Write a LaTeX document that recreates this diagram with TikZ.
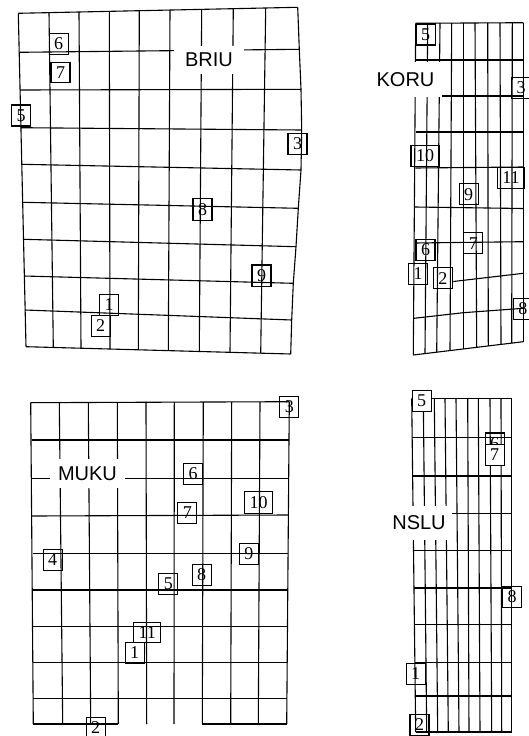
\documentclass[tikz,border=0pt]{standalone}
\usepackage{fontspec}
\setmainfont{Liberation Serif}
\newfontfamily\sitefont{Liberation Sans}
\tikzset{
  gridline/.style={line width=1.1pt},
  stn/.style={draw,line width=1.1pt,inner xsep=5pt,inner ysep=4.5pt,font=\fontsize{18}{18}\selectfont},
  site/.style={fill=white,inner sep=8pt,font=\sitefont\fontsize{20}{20}\selectfont}
}
\begin{document}
\begin{tikzpicture}[x=1pt,y=-1pt]
  \useasboundingbox (0,0) rectangle (528,736);
  \foreach \xt/\yt/\xb/\yb in {18.3/13.3/26/346.7, 49/12.6/53.3/347.5, 79/12/81/348.2, 109.3/11.3/110/349, 139.3/10.7/138.3/349.8, 170/10/168.3/350.6, 201.7/9.4/199.3/351.5, 233.3/8.7/230/352.3, 265.7/8/260.7/353.2}
    \draw[gridline] (\xt,\yt) -- (\xb,\yb);
  \draw[gridline] (297.7,7.3) -- (299.3,49.3) -- (301,89.3) -- (301.7,130) -- (301,170) -- (298.3,208.3) -- (296,246.7) -- (293.3,283.3) -- (291.7,320) -- (290.7,354);
  \foreach \xl/\yl/\xr/\yr in {18.3/13.3/297.7/7.3, 19.3/52.3/299.3/49.3, 20/90/301/89.3, 20.7/127.7/301.7/130, 21.7/164.3/301/170, 22.7/202.3/298.3/208.3, 23.3/239.3/296/246.7, 24/276/293.3/283.3, 25/310/291.7/320, 26/346.7/290.7/354}
    \draw[gridline] (\xl,\yl) -- (\xr,\yr);
  \node[site,inner xsep=11pt,inner ysep=7pt] (briu) at (209,59.7) {BRIU};
  \node[stn] (b6) at (58.7,44) {6}; \node[stn] (b7) at (60.5,72.5) {7}; \node[stn] (b5) at (21,115.5) {5}; \node[stn] (b3) at (297.5,144) {3};
  \node[stn] (b8) at (202.5,209.5) {8}; \node[stn] (b9) at (261.5,275.5) {9}; \node[stn] (b1) at (109,305) {1}; \node[stn] (b2) at (100.7,326) {2};

  \foreach \xt/\yt/\xb/\yb in {415.7/23.3/413.3/355, 427.7/23.3/425/353.6, 440/23.2/436.7/352.2, 451.7/23.1/450/350.6, 463.3/23/463.3/349, 475/23/476.7/347.3, 487.7/22.9/488.3/345.9, 500/22.8/501/344.4, 512.3/22.7/511.7/343.1, 523.3/22.7/523.3/341.7}
    \draw[gridline] (\xt,\yt) -- (\xb,\yb);
  \foreach \xl/\yl/\xr/\yr in {415.7/23.3/523.3/22.7, 415.7/60/523.3/60, 441.7/96/523.3/96, 415.5/132/523.3/132, 415.3/168/523.3/167, 415/207/523.3/208.5, 414.8/243/523.3/241.7, 453.3/281.5/523.3/273.3, 413.3/355/523.3/341.7}
    \draw[gridline] (\xl,\yl) -- (\xr,\yr);
  \draw[gridline] (414,318.3) -- (463.3,312.7) -- (523.3,308.3);
  \node[site,inner xsep=6.5pt,inner ysep=10pt] (koru) at (405.5,79.5) {KORU};
  \node[stn] (k5) at (425.7,34.5) {5}; \node[stn] (k3) at (521.2,88) {3}; \node[stn] (k10) at (425,156) {10}; \node[stn] (k11) at (511,178) {11};
  \node[stn] (k9) at (468.7,194.3) {9}; \node[stn] (k7) at (473.3,243.3) {7}; \node[stn] (k6) at (425.5,250) {6}; \node[stn] (k1) at (418,274) {1};
  \node[stn] (k2) at (442.8,278.3) {2}; \node[stn] (k8) at (522.8,309) {8};

  \foreach \xt/\yt/\xb/\yb in {30.7/402.7/33.3/724, 59.3/402.6/62.7/724, 88.3/402.5/90.7/724, 117.3/402.4/118.3/724, 146/402.3/146.7/724, 174.3/402.2/174/724, 203.3/402.1/202.3/724, 231.7/402/230.7/724, 260/401.8/258.3/724, 289.3/401.7/286.7/724}
    \draw[gridline] (\xt,\yt) -- (\xb,\yb);
  \foreach \xl/\yl/\xr/\yr in {30.7/402.7/289.3/401.7, 31.5/440/289/440, 32/478.3/288.5/478.3, 32.2/516/288/515, 32.5/553.3/287.8/553.3, 32.7/590/287.5/590, 33/626.7/287.3/626.7, 33/662.7/287/662.7, 33.2/698.3/286.8/698.3, 33.3/724/118.3/724, 202.3/724/286.7/724}
    \draw[gridline] (\xl,\yl) -- (\xr,\yr);
  \node[site,inner xsep=8.5pt] (muku) at (87.5,473.5) {MUKU};
  \node[stn] (m3) at (289.3,407) {3}; \node[stn] (m6) at (193,474) {6}; \node[stn] (m10) at (258.7,502.5) {10}; \node[stn] (m7) at (187.3,513) {7};
  \node[stn] (m4) at (52.7,560) {4}; \node[stn] (m9) at (248.8,554) {9}; \node[stn] (m8) at (201.7,575) {8}; \node[stn] (m5) at (168.3,584) {5};
  \node[stn] (m11) at (147.2,632.5) {11}; \node[stn] (m1) at (134.7,652.5) {1}; \node[stn] (m2) at (95.7,727.5) {2};

  \foreach \xt/\xb in {411.7/415.7, 423.3/426.7, 434.3/437.7, 445/448.3, 456/459, 467.7/469, 478.3/480, 490/491.7, 501/501.7, 511.7/511.7}
    \draw[gridline] (\xt,398.3) -- (\xb,732);
  \foreach \xl/\y in {411.7/398.3, 412.2/437.3, 412.6/476, 413.1/513.3, 413.5/550.7, 414/588, 414.4/624.7, 414.9/662.3, 415.3/696, 415.7/732}
    \draw[gridline] (\xl,\y) -- (511.7,\y);
  \node[site,inner xsep=6pt,inner ysep=9.5pt] (nslu) at (419,523) {NSLU};
  \node[stn,fill=white] (n5) at (421.7,401) {5}; \node[stn] (n6) at (494.7,443.5) {6}; \node[stn,fill=white] (n7) at (494.7,455) {7};
  \node[stn] (n8) at (512,596.7) {8}; \node[stn] (n1) at (415.7,673.7) {1}; \node[stn] (n2) at (419.5,725) {2};
\end{tikzpicture}
\end{document}
